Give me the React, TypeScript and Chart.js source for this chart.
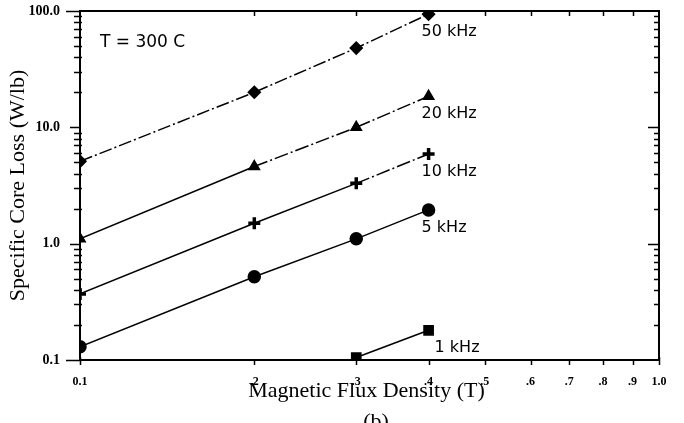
import React, { useEffect, useRef } from "react";
import { Chart, registerables } from "chart.js";

Chart.register(...registerables);

// ---- data ----
const fluxDensity = [0.1, 0.2, 0.3, 0.4];
const loss50k = [5.1, 20, 48, 94];
const loss20k = [1.1, 4.6, 10, 18.5];
const loss10k = [0.37, 1.5, 3.3, 5.9];
const loss5k = [0.13, 0.52, 1.1, 1.95];
const loss1k = [null, null, 0.105, 0.18];
const seriesNames = ["50 kHz", "20 kHz", "10 kHz", "5 kHz", "1 kHz"];
const xTickValues = [0.1, 0.2, 0.3, 0.4, 0.5, 0.6, 0.7, 0.8, 0.9, 1.0];
const xTickLabels = ["0.1", ".2", ".3", ".4", ".5", ".6", ".7", ".8", ".9", "1.0"];
const yMajorValues = [0.1, 1, 10, 100];
const yMajorLabels = ["0.1", "1.0", "10.0", "100.0"];
const annotation = "T = 300 C";
const xTitle = "Magnetic Flux Density (T)";
const yTitle = "Specific Core Loss (W/lb)";
const caption = "(b)";

const SERIF = "'Liberation Serif', 'Times New Roman', serif";
const SANS = "'DejaVu Sans', sans-serif";

function isMajor(v: number) {
  const l = Math.log10(v);
  return Math.abs(l - Math.round(l)) < 1e-6;
}

function yTickValues(): number[] {
  const out: number[] = [];
  for (let e = -1; e <= 1; e++) {
    for (let m = 1; m <= 9; m++) out.push(parseFloat((m * Math.pow(10, e)).toPrecision(6)));
  }
  out.push(100);
  return out;
}

const framePlugin = {
  id: "frameAndText",
  afterDraw(chart: any) {
    const { ctx, chartArea: a, scales } = chart;
    const x = scales.x;
    const y = scales.y;
    ctx.save();
    ctx.strokeStyle = "#000";
    ctx.lineCap = "butt";
    // top & right frame
    ctx.lineWidth = 2;
    ctx.beginPath();
    ctx.moveTo(a.left, a.top);
    ctx.lineTo(a.right, a.top);
    ctx.lineTo(a.right, a.bottom);
    ctx.stroke();

    ctx.lineWidth = 1.5;
    ctx.beginPath();
    for (const t of y.ticks) {
      const py = Math.round(y.getPixelForValue(t.value)) + 0.5;
      const major = isMajor(t.value);
      const ext = t.value === 100 || t.value === 0.1 ? 14 : 10;
      if (major) {
        ctx.moveTo(a.left - ext, py);
        ctx.lineTo(a.left, py);
        if (t.value !== 100 && t.value !== 0.1) {
          ctx.moveTo(a.right - 11, py);
          ctx.lineTo(a.right, py);
        }
      } else {
        ctx.moveTo(a.left - 6, py);
        ctx.lineTo(a.left + 2, py);
        ctx.moveTo(a.right - 5, py);
        ctx.lineTo(a.right, py);
      }
    }
    for (const t of x.ticks) {
      const px = Math.round(x.getPixelForValue(t.value)) + 0.5;
      if (t.value === 0.1 || t.value === 1) {
        ctx.moveTo(px, a.bottom - 3);
        ctx.lineTo(px, a.bottom + 5);
        continue;
      }
      ctx.moveTo(px, a.bottom - 1);
      ctx.lineTo(px, a.bottom + 5);
      ctx.moveTo(px, a.top);
      ctx.lineTo(px, a.top + 5);
    }
    ctx.stroke();

    // texts
    ctx.fillStyle = "#000";
    ctx.font = `17px ${SANS}`;
    ctx.textAlign = "left";
    ctx.textBaseline = "middle";
    ctx.fillText(annotation, a.left + 20, a.top + 32);

    ctx.font = `16px ${SANS}`;
    chart.data.datasets.forEach((ds: any, i: number) => {
      const meta = chart.getDatasetMeta(i);
      let idx = ds.data.length - 1;
      while (idx >= 0 && (ds.data[idx] == null || ds.data[idx].y == null)) idx--;
      const el = meta.data[idx];
      if (!el) return;
      const dx = i === 4 ? 6 : -7;
      ctx.fillText(seriesNames[i], el.x + dx, el.y + 18);
    });

    // axis titles
    ctx.font = `22px ${SERIF}`;
    ctx.textAlign = "center";
    ctx.textBaseline = "alphabetic";
    ctx.fillText(xTitle, (a.left + a.right) / 2 - 3, 397);
    ctx.fillText(caption, 376, 428);

    ctx.save();
    ctx.translate(24, (a.top + a.bottom) / 2);
    ctx.rotate(-Math.PI / 2);
    ctx.fillText(yTitle, 0, 0);
    ctx.restore();

    ctx.restore();
  },
};

export default function App() {
  const ref = useRef<HTMLCanvasElement | null>(null);

  useEffect(() => {
    if (!ref.current) return;
    const mk = (data: (number | null)[], style: string, radius: number, dash: number[] | null, bw = 1.5) => ({
      data: fluxDensity.map((v, i) => ({ x: v, y: data[i] })),
      borderColor: "#000",
      backgroundColor: "#000",
      borderWidth: 1.5,
      borderDash: dash || [],
      pointStyle: style,
      pointRadius: radius,
      pointBorderWidth: bw,
      pointBorderColor: "#000",
      pointBackgroundColor: "#000",
      spanGaps: false,
      fill: false,
      tension: 0,
    });

    const chart = new Chart(ref.current, {
      type: "line",
      data: {
        datasets: [
          mk(loss50k, "rectRot", 6, [13, 3, 2, 3]),
          { ...mk(loss20k, "triangle", 6, null), segment: { borderDash: (c: any) => (c.p0DataIndex >= 1 ? [14, 3, 2, 3] : undefined) } },
          { ...mk(loss10k, "cross", 6, null, 3.5), segment: { borderDash: (c: any) => (c.p0DataIndex >= 2 ? [14, 3, 2, 3] : undefined) } },
          mk(loss5k, "circle", 6, null),
          mk(loss1k, "rect", 6.5, null),
        ] as any,
      },
      options: {
        responsive: false,
        animation: false,
        devicePixelRatio: 1,
        layout: { padding: { left: 0, top: 11, right: 25, bottom: 0 } },
        plugins: { legend: { display: false }, tooltip: { enabled: false } },
        scales: {
          x: {
            type: "logarithmic",
            min: 0.1,
            max: 1.0,
            afterBuildTicks: (s: any) => {
              s.ticks = xTickValues.map((v) => ({ value: v }));
            },
            afterFit: (s: any) => {
              s.height = 63;
              s.paddingLeft = 0;
              s.paddingRight = 0;
            },
            grid: { display: true, drawOnChartArea: false, drawTicks: false, color: "rgba(0,0,0,0)" },
            border: { display: true, color: "#000", width: 2 },
            ticks: {
              autoSkip: false,
              maxRotation: 0,
              padding: 15,
              color: "#000",
              font: { family: SERIF, size: 12, weight: "bold" },
              callback: (v: any) => {
                const i = xTickValues.findIndex((t) => Math.abs(t - Number(v)) < 1e-6);
                return i >= 0 ? xTickLabels[i] : "";
              },
            },
          },
          y: {
            type: "logarithmic",
            min: 0.1,
            max: 100,
            afterBuildTicks: (s: any) => {
              s.ticks = yTickValues().map((v) => ({ value: v }));
            },
            afterFit: (s: any) => {
              s.width = 80;
              s.paddingTop = 0;
              s.paddingBottom = 0;
            },
            grid: { display: true, drawOnChartArea: false, drawTicks: false, color: "rgba(0,0,0,0)" },
            border: { display: true, color: "#000", width: 2 },
            ticks: {
              autoSkip: false,
              padding: 20,
              color: "#000",
              font: { family: SERIF, size: 14, weight: "bold" },
              callback: (v: any) => {
                const i = yMajorValues.findIndex((t) => Math.abs(t - Number(v)) < 1e-9);
                return i >= 0 ? yMajorLabels[i] : "";
              },
            },
          },
        },
      } as any,
      plugins: [framePlugin],
    });
    return () => chart.destroy();
  }, []);

  return (
    <canvas
      ref={ref}
      width={684}
      height={423}
      style={{ position: "fixed", left: 0, top: 0, display: "block", background: "#fff" }}
    />
  );
}
